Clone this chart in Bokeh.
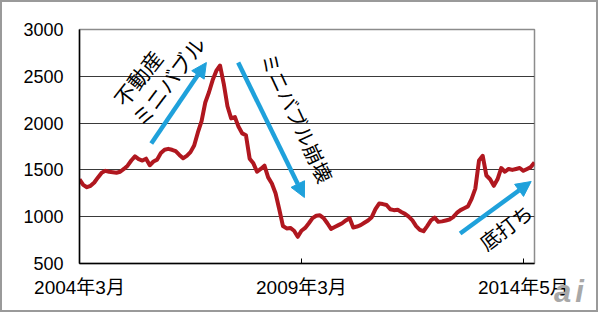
from bokeh.plotting import figure
from bokeh.models import Range1d, FixedTicker, Arrow, NormalHead, InlineStyleSheet
from bokeh.core.properties import value
from bokeh.embed import file_html
from bokeh.resources import INLINE
import math

# month index from 2004年3月 (0)
price = [
    1400, 1340, 1315, 1330, 1365, 1420, 1470, 1490, 1480, 1475,
    1470, 1480, 1510, 1545, 1600, 1645, 1615, 1600, 1620, 1550,
    1590, 1610, 1680, 1715, 1725, 1715, 1700, 1660, 1625, 1650,
    1690, 1760, 1900, 2020, 2220, 2330, 2460, 2560, 2615, 2420,
    2180, 2050, 2065, 1960, 1890, 1870, 1620, 1570, 1480, 1510,
    1545, 1420, 1355, 1250, 1080, 900, 875, 880, 850, 785,
    850, 880, 930, 985, 1010, 1015, 985, 930, 870, 890,
    910, 930, 960, 985, 885, 895, 910, 935, 960, 995,
    1080, 1140, 1135, 1125, 1080, 1070, 1075, 1050, 1030, 1000,
    960, 900, 860, 845, 900, 960, 990, 945, 950, 960,
    970, 995, 1040, 1070, 1090, 1110, 1190, 1300, 1600, 1650,
    1440, 1400, 1330, 1400, 1520, 1480, 1510, 1500, 1510, 1520,
    1490, 1510, 1530, 1580,
]
months = list(range(len(price)))

y_ticks = [500, 1000, 1500, 2000, 2500, 3000]
x_tick_pos = [0, 60, 120]
x_tick_labels = ["2004年3月", "2009年3月", "2014年5月"]

# annotations: (text, x, y, angle_deg, size)
notes = [
    ("不動産", 15.7, 2482, 52, "21px"),
    ("ミニバブル", 24.0, 2450, 53, "21px"),
    ("ミニバブル崩壊", 58.9, 2060, -65, "20px"),
    ("底打ち", 115.2, 890, 37, "20px"),
]
# arrows: (x_start, y_start, x_end, y_end)
arrows = [
    (19.4, 1782, 34.3, 2647),
    (42.9, 2647, 60.8, 1205),
    (102.9, 820, 122.1, 1376),
]
watermark = "ai"

FONT = "Liberation Sans, Noto Sans CJK JP"
BLUE = "#1fa1db"
RED = "#b0171f"

p = figure(width=598, height=312, output_backend="svg", toolbar_location=None,
           x_range=Range1d(0, 123), y_range=Range1d(500, 3000),
           min_border_left=79, min_border_right=64, min_border_top=29,
           min_border_bottom=49)
p.border_fill_color = None
p.background_fill_color = "white"
css = (":host { outline: 2px solid #9a9a9a; outline-offset: -2px; background: transparent; }\n"
       ":host::after { content: '%s'; position: absolute; left: 554px; top: 276px;"
       " font: italic bold 31px 'Liberation Sans'; line-height: 32px; letter-spacing: 4px;"
       " color: #a8a8a8; z-index: 10; pointer-events: none; }" % watermark)
p.stylesheets = [InlineStyleSheet(css=css)]

p.outline_line_color = "#8c8c8c"
p.outline_line_width = 1.5

p.yaxis.ticker = FixedTicker(ticks=y_ticks)
p.ygrid.ticker = FixedTicker(ticks=[t for t in y_ticks if 500 < t < 3000])
p.ygrid.grid_line_color = "#3a3a3a"
p.ygrid.grid_line_width = 1.2
p.xgrid.grid_line_color = None

p.xaxis.ticker = FixedTicker(ticks=x_tick_pos)
p.xaxis.major_label_overrides = {t: l for t, l in zip(x_tick_pos, x_tick_labels)}

for ax in (p.xaxis, p.yaxis):
    ax.axis_line_color = "black"
    ax.axis_line_width = 1.5
    ax.minor_tick_line_color = None
    ax.major_label_text_font = FONT
    ax.major_label_text_color = "black"

p.yaxis.major_label_text_font_size = "18px"
p.xaxis.major_label_text_font_size = "19px"
p.yaxis.major_tick_in = 0
p.yaxis.major_tick_out = 0
p.yaxis.major_label_standoff = 16
p.xaxis.major_tick_in = 5
p.xaxis.major_tick_out = 0
p.xaxis.major_tick_line_color = "black"
p.xaxis.major_label_standoff = 13

p.line(months, price, line_color=RED, line_width=4, line_join="round")

for (x0, y0, x1, y1) in arrows:
    p.add_layout(Arrow(x_start=x0, y_start=y0, x_end=x1, y_end=y1,
                       line_color=BLUE, line_width=4.5,
                       end=NormalHead(size=15, fill_color=BLUE, line_color=BLUE)))

for (t, x, y, ang, sz) in notes:
    p.text([x], [y], text=[t], angle=math.radians(ang),
           text_align="center", text_baseline="middle",
           text_font=value("Noto Sans CJK JP"), text_font_size=sz,
           text_color="black")

open("out.html", "w").write(file_html(p, INLINE))
